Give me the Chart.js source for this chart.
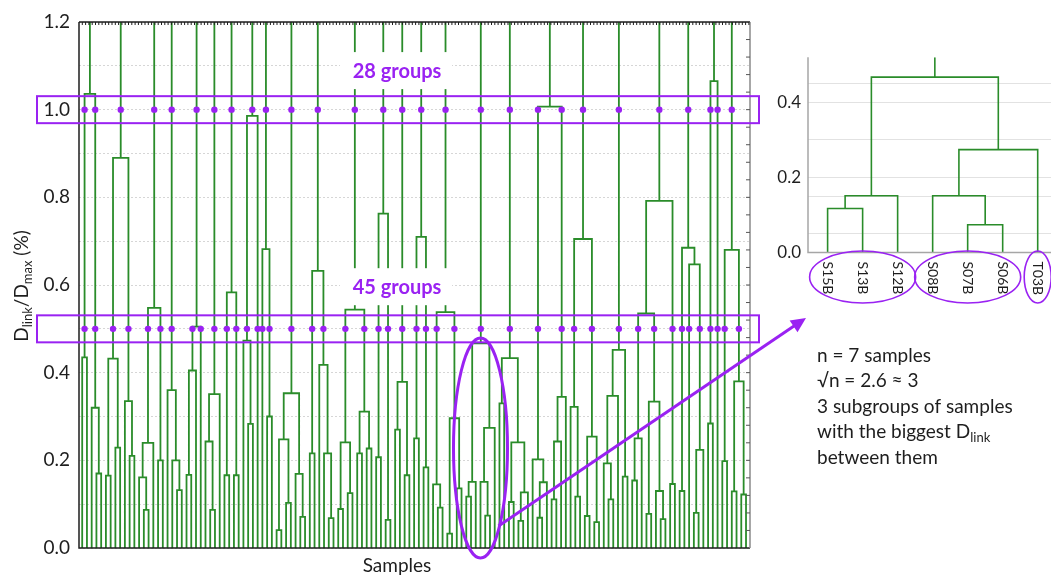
<!DOCTYPE html>
<html>
<head>
<meta charset="utf-8">
<script src="https://cdn.jsdelivr.net/npm/chart.js@4.4.1/dist/chart.umd.min.js"></script>
<style>
  body { margin: 0; background: #fff; }
  #wrap { position: relative; width: 1051px; height: 575px; }
  canvas { position: absolute; }
</style>
</head>
<body>
<div id="wrap">
  <canvas id="main" width="1051" height="575" style="left:0;top:0"></canvas>
  <canvas id="inset" width="291" height="280" style="left:760px;top:40px"></canvas>
</div>
<script>
// ---- data: dendrogram, node = [linkHeight, left, right], leaf = 0 ----
// the circled cluster (also shown enlarged in the inset)
const selectedCluster = [0.467, [0.151, [0.117, 0, 0], 0], [0.274, [0.151, 0, [0.074, 0, 0]], 0]];
const selectedLabels = ['S15B', 'S13B', 'S12B', 'S08B', 'S07B', 'S06B', 'T03B'];
const selectedSubgroups = [[0, 2], [3, 5], [6, 6]];

// top-level branches, left to right (they join above the plotted range)
const branchesLeft = [
    [1.036, [0.435, 0, 0], [0.32, 0, [0.17, 0, 0]]],
    [0.89, [0.432, [0.165, 0, 0], [0.229, 0, 0]], [0.335, 0, [0.21, 0, 0]]],
    [0.548, [0.24, [0.161, 0, [0.087, 0, 0]], 0], [0.2, 0, 0]],
    [0.36, 0, [0.2, 0, [0.132, 0, 0]]],
    [0.505, [0.405, [0.167, 0, 0], 0], 0],
    [0.351, [0.243, 0, [0.087, 0, 0]], 0],
    [0.583, [0.166, 0, 0], [0.166, 0, 0]],
    [0.986, [0.473, 0, [0.283, 0, 0]], 0],
    [0.682, 0, [0.3, 0, 0]],
    [0.353, [0.248, [0.041, 0, 0], [0.103, 0, 0]], [0.169, 0, [0.071, 0, 0]]],
    [0.632, [0.216, 0, 0], [0.418, 0, [0.216, 0, [0.068, 0, 0]]]],
];
const branchesMiddle = [
    [0.544, [0.241, [0.089, 0, 0], [0.125, 0, 0]], [0.311, [0.216, 0, 0], [0.227, 0, 0]]],
    [0.763, [0.207, 0, 0], [0.064, 0, 0]],
    [0.379, [0.27, 0, 0], [0.166, 0, 0]],
    [0.71, [0.25, 0, 0], [0.184, 0, 0]],
    [0.538, [0.145, 0, [0.092, 0, 0]], [0.296, [0.033, 0, 0], [0.136, 0, 0]]],
    selectedCluster,
    [0.433, [0.33, 0, 0], [0.241, [0.105, 0, 0], [0.127, [0.062, 0, 0], 0]]],
];
const branchesRight = [
    [1.007, [0.202, 0, [0.15, [0.069, 0, 0], 0]], [0.345, [0.243, [0.111, 0, 0], 0], 0]],
    [0.705, [0.322, 0, [0.117, 0, 0]], [0.254, [0.073, 0, 0], [0.059, 0, 0]]],
    [0.452, [0.347, [0.193, 0, [0.111, 0, 0]], 0], [0.163, 0, 0]],
    [0.792, [0.535, [0.25, [0.154, 0, 0], 0], [0.334, [0.078, 0, 0], [0.13, 0, [0.066, 0, 0]]]], [0.146, 0, 0]],
    [0.685, [0.13, 0, 0], [0.647, 0, [0.224, [0.08, 0, 0], 0]]],
    [1.065, [0.284, 0, 0], 0],
    [0.68, [0.198, 0, 0], [0.38, [0.129, 0, 0], [0.122, 0, 0]]],
];

const cutLevels = [1.0, 0.5];
const yMax = 1.2;
const insetTop = 0.52;
const insetTicks = [0, 0.05, 0.15, 0.2, 0.3, 0.4, 0.45];
const insetTickLabels = [0, 0.2, 0.4];

// ---- look ----
const GREEN = '#2a8c2a';
const PURPLE = '#9a22f2';
const INK = '#1e1e1e';
const FONT = "Lato, 'Open Sans', sans-serif";

// ---- build line segments from a tree ----
function layoutTree(node, counter, segs) {
    if (node === 0) return { x: counter.n++, h: 0 };
    const l = layoutTree(node[1], counter, segs);
    const r = layoutTree(node[2], counter, segs);
    segs.push({ x: l.x, y: l.h }, { x: l.x, y: node[0] }, { x: r.x, y: node[0] }, { x: r.x, y: r.h }, { x: l.x, y: null });
    return { x: (l.x + r.x) / 2, h: node[0], kids: [l, r], first: l.first ?? l.x, last: r.last ?? r.x };
}

function cutPoints(info, parentH, cut, out) {
    if (info.h < cut) {
        if (parentH > cut) out.push({ x: info.x, y: cut });
        return;
    }
    info.kids.forEach(k => cutPoints(k, info.h, cut, out));
}

const branches = [...branchesLeft, ...branchesMiddle, ...branchesRight];
const counter = { n: 0 };
const segments = [];
const tops = branches.map(b => {
    const info = layoutTree(b, counter, segments);
    segments.push({ x: info.x, y: info.h }, { x: info.x, y: yMax }, { x: info.x, y: null });
    return info;
});
const leafCount = counter.n;
const cutDots = cutLevels.map(c => {
    const out = [];
    tops.forEach(t => cutPoints(t, yMax, c, out));
    return out;
});
const selInfo = tops[branchesLeft.length + branchesMiddle.indexOf(selectedCluster)];

function richText(ctx, parts, x, y, size, color, align) {
    ctx.save();
    ctx.fillStyle = color;
    ctx.textBaseline = 'alphabetic';
    ctx.textAlign = 'left';
    let w = 0;
    parts.forEach(p => {
        ctx.font = `${p.sub ? Math.round(size * 0.68) : size}px ${FONT}`;
        w += ctx.measureText(p.t).width;
    });
    let cx = align === 'center' ? x - w / 2 : x;
    parts.forEach(p => {
        ctx.font = `${p.sub ? Math.round(size * 0.68) : size}px ${FONT}`;
        ctx.fillText(p.t, cx, p.sub ? y + size * 0.22 : y);
        cx += ctx.measureText(p.t).width;
    });
    ctx.restore();
}

const mainDecor = {
    id: 'mainDecor',
    afterDraw(chart) {
        const { ctx, chartArea: a, scales: { x, y } } = chart;
        ctx.save();
        // frame
        ctx.lineWidth = 1.5;
        ctx.strokeStyle = INK;
        ctx.beginPath();
        ctx.moveTo(a.left, a.top); ctx.lineTo(a.right, a.top);
        ctx.moveTo(a.left, a.top); ctx.lineTo(a.left, a.bottom); ctx.lineTo(a.right, a.bottom);
        ctx.stroke();
        ctx.strokeStyle = '#8a8a8a';
        ctx.beginPath();
        ctx.moveTo(a.right, a.top); ctx.lineTo(a.right, a.bottom);
        ctx.stroke();
        // minor ticks: top and right
        ctx.lineWidth = 1;
        ctx.strokeStyle = INK;
        ctx.beginPath();
        for (let px = a.left + 3.3; px < a.right; px += 3.3) {
            ctx.moveTo(px, a.top); ctx.lineTo(px, a.top + 3);
        }
        ctx.stroke();
        ctx.strokeStyle = '#555';
        ctx.beginPath();
        for (let v = 0.04; v < yMax; v += 0.04) {
            const py = y.getPixelForValue(v);
            ctx.moveTo(a.right, py); ctx.lineTo(a.right - 4, py);
        }
        ctx.stroke();

        // cut boxes
        ctx.strokeStyle = PURPLE;
        ctx.lineWidth = 2;
        cutLevels.forEach(c => {
            const py = y.getPixelForValue(c);
            ctx.strokeRect(a.left - 42, py - 13.5, a.right - a.left + 51, 27);
        });

        // group labels on white patches
        const labelY = [1.088, 0.595];
        cutLevels.forEach((c, i) => {
            const py = y.getPixelForValue(labelY[i]);
            ctx.fillStyle = '#fff';
            ctx.fillRect(340, py - 19, 112, 37);
            ctx.fillStyle = PURPLE;
            ctx.font = `bold 20px ${FONT}`;
            ctx.textAlign = 'center';
            ctx.textBaseline = 'middle';
            ctx.fillText(`${cutDots[i].length} groups`, 397, py);
        });

        // ellipse around the selected cluster
        const ex = x.getPixelForValue((selInfo.first + selInfo.last) / 2);
        const eTop = y.getPixelForValue(selInfo.h + 0.012);
        const eBot = a.bottom + 10;
        ctx.strokeStyle = PURPLE;
        ctx.lineWidth = 3;
        ctx.beginPath();
        ctx.ellipse(ex, (eTop + eBot) / 2, 27, (eBot - eTop) / 2, 0, 0, Math.PI * 2);
        ctx.stroke();

        // arrow to the inset
        const x0 = ex + 18, y0 = 526, x1 = 806, y1 = 318;
        const ang = Math.atan2(y1 - y0, x1 - x0);
        ctx.beginPath();
        ctx.moveTo(x0, y0);
        ctx.lineTo(x1 - 10 * Math.cos(ang), y1 - 10 * Math.sin(ang));
        ctx.stroke();
        ctx.fillStyle = PURPLE;
        ctx.beginPath();
        ctx.moveTo(x1, y1);
        ctx.lineTo(x1 - 15 * Math.cos(ang) + 7 * Math.sin(ang), y1 - 15 * Math.sin(ang) - 7 * Math.cos(ang));
        ctx.lineTo(x1 - 15 * Math.cos(ang) - 7 * Math.sin(ang), y1 - 15 * Math.sin(ang) + 7 * Math.cos(ang));
        ctx.closePath();
        ctx.fill();

        // axis titles
        ctx.fillStyle = INK;
        ctx.font = `19px ${FONT}`;
        ctx.textAlign = 'center';
        ctx.textBaseline = 'middle';
        ctx.fillText('Samples', 397, 566);
        ctx.save();
        ctx.translate(28, 286);
        ctx.rotate(-Math.PI / 2);
        richText(ctx, [{ t: 'D' }, { t: 'link', sub: true }, { t: '/D' }, { t: 'max', sub: true }, { t: ' (%)' }], 0, 0, 19, INK, 'center');
        ctx.restore();

        // explanation
        const lines = [
            [{ t: 'n = 7 samples' }],
            [{ t: '\u221An = 2.6 \u2248 3' }],
            [{ t: '3 subgroups of samples' }],
            [{ t: 'with the biggest D' }, { t: 'link', sub: true }],
            [{ t: 'between them' }],
        ];
        lines.forEach((ln, i) => richText(ctx, ln, 817, 362 + i * 25.4, 19, INK, 'left'));
        ctx.restore();
    }
};

new Chart(document.getElementById('main'), {
    type: 'scatter',
    data: {
        datasets: [
            { data: cutDots.flat(), pointRadius: 3.2, pointBackgroundColor: PURPLE, pointBorderWidth: 0, order: 0 },
            { data: segments, showLine: true, borderColor: GREEN, borderWidth: 1.8, pointRadius: 0, spanGaps: false, order: 1 },
        ],
    },
    options: {
        responsive: false,
        animation: false,
        events: [],
        layout: { padding: { left: 0, right: 301, top: 22, bottom: 27 } },
        plugins: { legend: { display: false }, tooltip: { enabled: false } },
        scales: {
            x: {
                type: 'linear', min: -0.675, max: leafCount - 1 + 0.84,
                ticks: { display: false },
                grid: { display: false, drawTicks: false },
                border: { display: false },
                afterFit: s => { s.height = 0; },
            },
            y: {
                min: 0, max: yMax,
                afterFit: s => { s.width = 79; },
                ticks: {
                    stepSize: 0.1, padding: 9, color: INK,
                    font: { family: FONT, size: 19 },
                    callback: v => (Math.round(v * 10) % 2 === 0 ? v.toFixed(1) : ''),
                },
                grid: { color: '#d6d6d6', drawTicks: false, lineWidth: 1 },
                border: { display: false, dash: [2, 2] },
            },
        },
    },
    plugins: [mainDecor],
});

// ---- inset: enlarged selected cluster ----
const insetSegs = [];
const insetCounter = { n: 0 };
const insetInfo = layoutTree(selectedCluster, insetCounter, insetSegs);
insetSegs.push({ x: insetInfo.x, y: insetInfo.h }, { x: insetInfo.x, y: insetTop });

const insetDecor = {
    id: 'insetDecor',
    afterDraw(chart) {
        const { ctx, chartArea: a, scales: { x } } = chart;
        ctx.save();
        ctx.strokeStyle = '#a6a6a6';
        ctx.lineWidth = 1.5;
        ctx.beginPath();
        ctx.moveTo(a.left, a.top); ctx.lineTo(a.left, a.bottom); ctx.lineTo(a.right, a.bottom);
        ctx.stroke();
        ctx.fillStyle = INK;
        ctx.font = `14px ${FONT}`;
        ctx.textBaseline = 'middle';
        ctx.textAlign = 'left';
        selectedLabels.forEach((t, i) => {
            ctx.save();
            ctx.translate(x.getPixelForValue(i), a.bottom + 9);
            ctx.rotate(Math.PI / 2);
            ctx.fillText(t, 0, 0);
            ctx.restore();
        });
        ctx.strokeStyle = PURPLE;
        ctx.lineWidth = 1.6;
        selectedSubgroups.forEach(([s, e]) => {
            const cx = x.getPixelForValue((s + e) / 2);
            const rx = e > s ? (x.getPixelForValue(e) - x.getPixelForValue(s)) / 2 + 18 : 13.5;
            ctx.beginPath();
            ctx.ellipse(cx, a.bottom + 24.5, rx, 26, 0, 0, Math.PI * 2);
            ctx.stroke();
        });
        ctx.restore();
    }
};

new Chart(document.getElementById('inset'), {
    type: 'scatter',
    data: {
        datasets: [
            { data: insetSegs, showLine: true, borderColor: GREEN, borderWidth: 1.6, pointRadius: 0, spanGaps: false },
        ],
    },
    options: {
        responsive: false,
        animation: false,
        events: [],
        layout: { padding: { left: 0, right: 0, top: 17, bottom: 67.5 } },
        plugins: { legend: { display: false }, tooltip: { enabled: false } },
        scales: {
            x: {
                type: 'linear', min: -0.56, max: 6.38,
                ticks: { display: false },
                grid: { display: false, drawTicks: false },
                border: { display: false },
                afterFit: s => { s.height = 0; },
            },
            y: {
                min: 0, max: insetTop,
                afterFit: s => { s.width = 48; },
                afterBuildTicks: s => { s.ticks = insetTicks.map(v => ({ value: v })); },
                ticks: {
                    padding: 7, color: INK,
                    font: { family: FONT, size: 17 },
                    callback: v => (insetTickLabels.some(t => Math.abs(t - v) < 1e-6) ? v.toFixed(1) : ''),
                },
                grid: { color: '#e2e2e2', drawTicks: false },
                border: { display: false },
            },
        },
    },
    plugins: [insetDecor],
});
</script>
</body>
</html>
